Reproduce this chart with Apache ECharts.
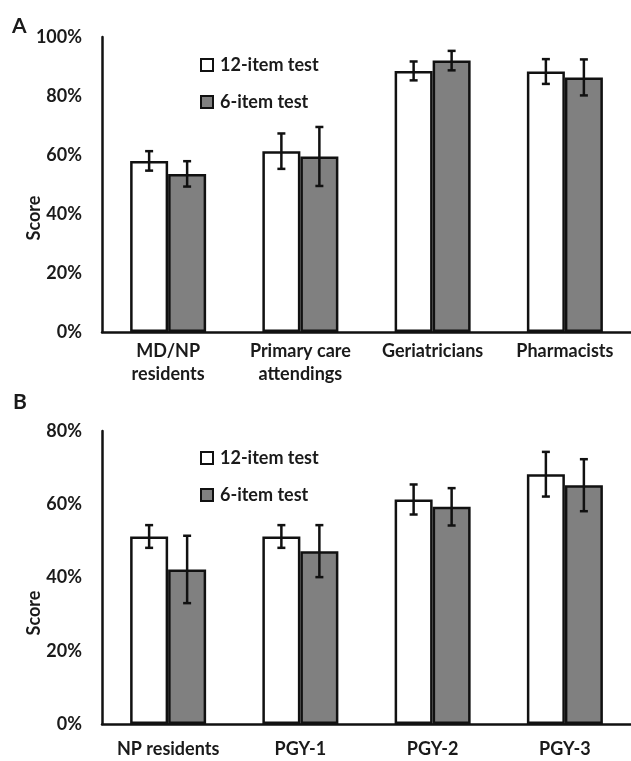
<!DOCTYPE html>
<html>
<head>
<meta charset="utf-8">
<script src="https://cdn.jsdelivr.net/npm/echarts@6/dist/echarts.min.js"></script>
<style>
html,body{margin:0;padding:0;background:#fff;}
#chart{width:631px;height:761px;}
</style>
</head>
<body>
<div id="chart"></div>
<script>
// Panel A
const categoriesA = ['MD/NP\nresidents', 'Primary care\nattendings', 'Geriatricians', 'Pharmacists'];
const twelveA = [58, 61.3, 88.5, 88.3];
const twelveErrA = [3.3, 6, 3.2, 4.2];
const sixA = [53.6, 59.5, 92, 86.3];
const sixErrA = [4.3, 10, 3.3, 6.1];
// Panel B
const categoriesB = ['NP residents', 'PGY-1', 'PGY-2', 'PGY-3'];
const twelveB = [51.2, 51.2, 61.3, 68.2];
const twelveErrB = [3.1, 3.1, 4.1, 6.1];
const sixB = [42.2, 47.2, 59.3, 65.2];
const sixErrB = [9.2, 7.1, 5.1, 7.1];
const yTicksA = {min: 0, max: 100, interval: 20};
const yTicksB = {min: 0, max: 80, interval: 20};

const FONT = 'Lato, "Open Sans", sans-serif';
const TXT = '#1a1a1a';
const GRAY = '#808080';
const BAR_W = 38;

const chart = echarts.init(document.getElementById('chart'), null, {renderer: 'canvas'});

function errData(vals, errs) {
  return vals.map((v, i) => [i, v, errs[i]]);
}
function errSeries(name, vals, errs, side, axisIdx) {
  return {
    type: 'custom',
    name: name + ' err',
    xAxisIndex: axisIdx,
    yAxisIndex: axisIdx,
    z: 5,
    silent: true,
    data: errData(vals, errs),
    renderItem: function (params, api) {
      const x = api.value(0), v = api.value(1), e = api.value(2);
      const hi = api.coord([x, v + e]);
      const lo = api.coord([x, v - e]);
      const cx = hi[0] + side * BAR_W / 2;
      const cap = 4;
      const st = {stroke: '#111', lineWidth: 2.5};
      return {
        type: 'group',
        children: [
          {type: 'line', shape: {x1: cx, y1: hi[1], x2: cx, y2: lo[1]}, style: st},
          {type: 'line', shape: {x1: cx - cap, y1: hi[1], x2: cx + cap, y2: hi[1]}, style: st},
          {type: 'line', shape: {x1: cx - cap, y1: lo[1], x2: cx + cap, y2: lo[1]}, style: st}
        ]
      };
    }
  };
}
function barSeries(name, vals, color, axisIdx) {
  return {
    type: 'bar',
    name: name,
    xAxisIndex: axisIdx,
    yAxisIndex: axisIdx,
    data: vals,
    barWidth: BAR_W,
    barGap: '0%',
    itemStyle: {color: color, borderColor: '#111', borderWidth: 2.5},
    emphasis: {disabled: true}
  };
}
function xAxis(cats, gridIdx, margin) {
  return {
    type: 'category',
    gridIndex: gridIdx,
    data: cats,
    axisLine: {lineStyle: {color: '#111', width: 2.5}},
    axisTick: {show: false},
    axisLabel: {color: TXT, fontFamily: FONT, fontWeight: 'bold', fontSize: 18, lineHeight: 23, margin: margin, interval: 0}
  };
}
function yAxis(t, gridIdx) {
  return {
    type: 'value',
    gridIndex: gridIdx,
    min: t.min, max: t.max, interval: t.interval,
    axisLine: {show: true, lineStyle: {color: '#111', width: 2.5}},
    axisTick: {show: false},
    splitLine: {show: false},
    axisLabel: {color: TXT, fontFamily: FONT, fontWeight: 'bold', fontSize: 18, margin: 20, formatter: '{value}%'}
  };
}
function legend(top) {
  return {
    left: 200, top: top, orient: 'vertical', padding: 0,
    data: ['12-item test', '6-item test'],
    itemWidth: 12, itemHeight: 12, itemGap: 19,
    icon: 'rect',
    selectedMode: false,
    textStyle: {color: TXT, fontFamily: FONT, fontWeight: 'bold', fontSize: 18, padding: [0, 0, 0, 2]}
  };
}

chart.setOption({
  animation: false,
  grid: [
    {left: 102, right: 0, top: 37, height: 295},
    {left: 102, right: 0, top: 431, height: 296}
  ],
  xAxis: [xAxis(categoriesA, 0, 8), xAxis(categoriesB, 1, 14)],
  yAxis: [yAxis(yTicksA, 0), yAxis(yTicksB, 1)],
  legend: [legend(56), legend(449)],
  graphic: [
    {type: 'text', left: 12, top: 16, style: {text: 'A', font: 'bold 21px ' + FONT, fill: TXT}},
    {type: 'text', left: 13, top: 392, style: {text: 'B', font: 'bold 21px ' + FONT, fill: TXT}},
    {type: 'text', x: 34, y: 218, rotation: Math.PI / 2, style: {text: 'Score', font: 'bold 18px ' + FONT, fill: TXT, align: 'center', verticalAlign: 'middle'}},
    {type: 'text', x: 34, y: 613, rotation: Math.PI / 2, style: {text: 'Score', font: 'bold 18px ' + FONT, fill: TXT, align: 'center', verticalAlign: 'middle'}}
  ],
  series: [
    barSeries('12-item test', twelveA, '#ffffff', 0),
    barSeries('6-item test', sixA, GRAY, 0),
    barSeries('12-item test', twelveB, '#ffffff', 1),
    barSeries('6-item test', sixB, GRAY, 1),
    errSeries('12A', twelveA, twelveErrA, -1, 0),
    errSeries('6A', sixA, sixErrA, 1, 0),
    errSeries('12B', twelveB, twelveErrB, -1, 1),
    errSeries('6B', sixB, sixErrB, 1, 1)
  ]
});
</script>
</body>
</html>
